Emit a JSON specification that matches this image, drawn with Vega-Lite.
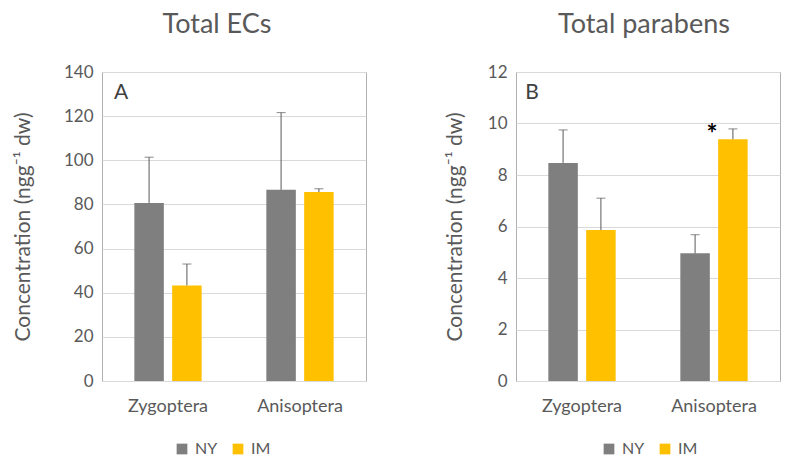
{
  "$schema": "https://vega.github.io/schema/vega-lite/v6.json",
  "background": "white",
  "padding": {"left": 11, "right": 0, "top": 10, "bottom": 0},
  "spacing": 76,
  "config": {
    "font": "Lato",
    "view": {"stroke": "#b0b0b0", "strokeWidth": 1},
    "axis": {"labelColor": "#595959", "titleColor": "#595959", "labelFont": "Lato", "titleFont": "Lato"},
    "title": {"font": "Lato", "fontSize": 27, "fontWeight": "normal", "color": "#595959", "offset": 24},
    "legend": {"labelColor": "#595959", "labelFont": "Lato"}
  },
  "resolve": {"legend": {"color": "independent"}},
  "datasets": {
    "ecs": [
      {"taxon": "Zygoptera", "group": "NY", "value": 80.7, "upper": 101.4},
      {"taxon": "Zygoptera", "group": "IM", "value": 43.3, "upper": 53.0},
      {"taxon": "Anisoptera", "group": "NY", "value": 86.6, "upper": 121.6},
      {"taxon": "Anisoptera", "group": "IM", "value": 85.6, "upper": 87.1}
    ],
    "parabens": [
      {"taxon": "Zygoptera", "group": "NY", "value": 8.47, "upper": 9.75},
      {"taxon": "Zygoptera", "group": "IM", "value": 5.86, "upper": 7.1},
      {"taxon": "Anisoptera", "group": "NY", "value": 4.96, "upper": 5.68},
      {"taxon": "Anisoptera", "group": "IM", "value": 9.39, "upper": 9.79}
    ]
  },
  "hconcat": [
    {
      "title": {"text": "Total ECs", "dx": -17},
      "width": 264,
      "height": 309,
      "data": {"name": "ecs"},
      "encoding": {
        "x": {"field": "taxon", "type": "nominal", "sort": ["Zygoptera", "Anisoptera"],
              "scale": {"paddingInner": 0.49, "paddingOuter": 0.245},
              "axis": {"title": null, "labelAngle": 0, "labelFontSize": 18, "labelPadding": 16, "ticks": false, "domain": false}},
        "xOffset": {"field": "group", "type": "nominal", "sort": ["NY", "IM"], "scale": {"paddingInner": 0.22, "paddingOuter": 0}}
      },
      "layer": [
        {
          "mark": {"type": "bar"},
          "encoding": {
            "y": {"field": "value", "type": "quantitative", "scale": {"domain": [0, 140]},
                  "axis": {"title": "Concentration (ngg⁻¹ dw)", "titleFontSize": 21, "titleFontWeight": "normal", "titlePadding": 30, "labelFontSize": 17, "labelPadding": 9, "values": [0, 20, 40, 60, 80, 100, 120, 140], "ticks": false, "domain": false, "gridColor": "#d9d9d9"}},
            "color": {"field": "group", "type": "nominal", "sort": ["NY", "IM"],
                      "scale": {"domain": ["NY", "IM"], "range": ["#7f7f7f", "#ffc000"]},
                      "legend": {"title": null, "orient": "none", "legendX": 72, "legendY": 369, "direction": "horizontal", "symbolType": "square", "symbolSize": 115, "symbolStrokeWidth": 0, "labelFontSize": 16, "labelOffset": 5, "columnPadding": 12}}
          }
        },
        {
          "mark": {"type": "rule", "color": "#595959", "strokeWidth": 1},
          "encoding": {"y": {"field": "value", "type": "quantitative"}, "y2": {"field": "upper"}}
        },
        {
          "mark": {"type": "tick", "color": "#595959", "thickness": 1, "size": 9, "orient": "horizontal"},
          "encoding": {"y": {"field": "upper", "type": "quantitative"}}
        },
        {
          "data": {"values": [{"letter": "A", "taxon": "Zygoptera", "pos": 130.5}]},
          "mark": {"type": "text", "fontSize": 21, "color": "#404040", "dx": -47, "align": "center", "baseline": "middle"},
          "encoding": {
            "x": {"field": "taxon", "type": "nominal"},
            "xOffset": null,
            "y": {"field": "pos", "type": "quantitative"},
            "text": {"field": "letter"}
          }
        }
      ]
    },
    {
      "title": {"text": "Total parabens", "dx": -4},
      "width": 264,
      "height": 309,
      "data": {"name": "parabens"},
      "encoding": {
        "x": {"field": "taxon", "type": "nominal", "sort": ["Zygoptera", "Anisoptera"],
              "scale": {"paddingInner": 0.49, "paddingOuter": 0.245},
              "axis": {"title": null, "labelAngle": 0, "labelFontSize": 18, "labelPadding": 16, "ticks": false, "domain": false}},
        "xOffset": {"field": "group", "type": "nominal", "sort": ["NY", "IM"], "scale": {"paddingInner": 0.22, "paddingOuter": 0}}
      },
      "layer": [
        {
          "mark": {"type": "bar"},
          "encoding": {
            "y": {"field": "value", "type": "quantitative", "scale": {"domain": [0, 12]},
                  "axis": {"title": "Concentration (ngg⁻¹ dw)", "titleFontSize": 21, "titleFontWeight": "normal", "titlePadding": 22, "labelFontSize": 17, "labelPadding": 9, "values": [0, 2, 4, 6, 8, 10, 12], "ticks": false, "domain": false, "gridColor": "#d9d9d9"}},
            "color": {"field": "group", "type": "nominal", "sort": ["NY", "IM"],
                      "scale": {"domain": ["NY", "IM"], "range": ["#7f7f7f", "#ffc000"]},
                      "legend": {"title": null, "orient": "none", "legendX": 85, "legendY": 369, "direction": "horizontal", "symbolType": "square", "symbolSize": 115, "symbolStrokeWidth": 0, "labelFontSize": 16, "labelOffset": 5, "columnPadding": 12}}
          }
        },
        {
          "mark": {"type": "rule", "color": "#595959", "strokeWidth": 1},
          "encoding": {"y": {"field": "value", "type": "quantitative"}, "y2": {"field": "upper"}}
        },
        {
          "mark": {"type": "tick", "color": "#595959", "thickness": 1, "size": 9, "orient": "horizontal"},
          "encoding": {"y": {"field": "upper", "type": "quantitative"}}
        },
        {
          "data": {"values": [{"letter": "B", "taxon": "Zygoptera", "pos": 11.2}]},
          "mark": {"type": "text", "fontSize": 21, "color": "#404040", "dx": -50, "align": "center", "baseline": "middle"},
          "encoding": {
            "x": {"field": "taxon", "type": "nominal"},
            "xOffset": null,
            "y": {"field": "pos", "type": "quantitative"},
            "text": {"field": "letter"}
          }
        },
        {
          "data": {"values": [{"mark": "*", "taxon": "Anisoptera", "pos": 9.75}]},
          "mark": {"type": "text", "fontSize": 26, "fontWeight": "bold", "color": "#000000", "dx": -2, "dy": 5, "align": "center", "baseline": "middle"},
          "encoding": {
            "x": {"field": "taxon", "type": "nominal"},
            "xOffset": null,
            "y": {"field": "pos", "type": "quantitative"},
            "text": {"field": "mark"}
          }
        }
      ]
    }
  ]
}
